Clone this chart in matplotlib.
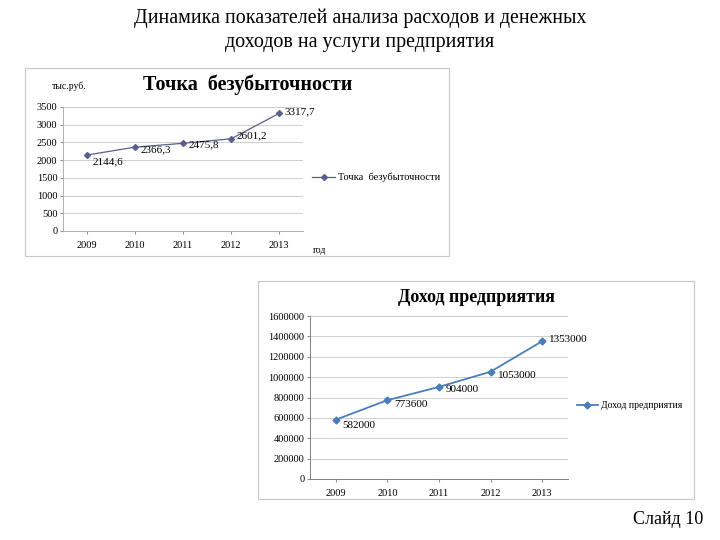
import matplotlib
matplotlib.use('Agg')
import matplotlib.pyplot as plt
from matplotlib.patches import Rectangle
from matplotlib.ticker import FuncFormatter

plt.rcParams['font.family'] = ['Liberation Serif', 'DejaVu Serif']

years = ['2009', '2010', '2011', '2012', '2013']
breakeven = [2144.6, 2366.3, 2475.8, 2601.2, 3317.7]
breakeven_labels = ['2144,6', '2366,3', '2475,8', '2601,2', '3317,7']
income = [582000, 773600, 904000, 1053000, 1353000]
income_labels = ['582000', '773600', '904000', '1053000', '1353000']

W, H = 720, 540
fig = plt.figure(figsize=(7.2, 5.4), dpi=100)


def box(x0, y0, x1, y1):
    # pixel box -> figure coords
    return [x0 / W, 1 - y1 / H, (x1 - x0) / W, (y1 - y0) / H]


def frame(x0, y0, x1, y1):
    l, b, w, h = box(x0, y0, x1, y1)
    fig.patches.append(Rectangle((l, b), w, h, transform=fig.transFigure,
                                 fill=False, edgecolor='#c8c8c8', lw=0.8))


fig.text(0.5, 1 - 18 / H, 'Динамика показателей анализа расходов и денежных',
         ha='center', va='center', fontsize=14.4)
fig.text(0.5, 1 - 43 / H, 'доходов на услуги предприятия',
         ha='center', va='center', fontsize=14.4)
fig.text(703 / W, 1 - 520 / H, 'Слайд 10', ha='right', va='center', fontsize=13)


def style(ax, ymax, step, color):
    ax.set_xlim(-0.5, 4.5)
    ax.set_ylim(0, ymax)
    ax.set_yticks(range(0, ymax + 1, step))
    ax.yaxis.set_major_formatter(FuncFormatter(lambda v, p: '%d' % v))
    ax.set_xticks(range(5))
    ax.set_xticklabels(years)
    ax.tick_params(labelsize=7.5, length=2, color='#909090', pad=5)
    ax.tick_params(axis='y', pad=2)
    ax.grid(axis='y', color='#c8c8c8', lw=0.6)
    ax.set_axisbelow(True)
    for s in ['top', 'right']:
        ax.spines[s].set_visible(False)
    for s in ['left', 'bottom']:
        ax.spines[s].set_color(color)
        ax.spines[s].set_linewidth(0.7)


# chart 1
frame(25, 68, 449, 256)
ax1 = fig.add_axes(box(63, 107, 303, 231))
c1 = '#5a5e8c'
ax1.plot(range(5), breakeven, color=c1, lw=0.9, marker='D', ms=3,
         label='Точка  безубыточности')
style(ax1, 3500, 500, '#b0b0b0')
offs1 = [(4, -5), (4, -2), (4, -1), (4, 2), (4, 1)]
for i, (v, t) in enumerate(zip(breakeven, breakeven_labels)):
    ax1.annotate(t, (i, v), xytext=offs1[i], textcoords='offset points',
                 fontsize=8, va='center')
ax1.legend(loc='center left', bbox_to_anchor=(1.0, 0.43), frameon=False,
           fontsize=7.5, handlelength=2.2, handletextpad=0.3)
fig.text(52 / W, 1 - 86 / H, 'тыс.руб.', fontsize=7, va='center')
fig.text(313 / W, 1 - 250 / H, 'год', fontsize=7, va='center')
fig.text(248 / W, 1 - 85 / H, 'Точка  безубыточности', ha='center',
         va='center', fontsize=14.5, fontweight='bold')

# chart 2
frame(258, 281, 694, 499)
ax2 = fig.add_axes(box(310, 316, 568, 479))
c2 = '#4a7ebb'
ax2.plot(range(5), income, color=c2, lw=1.3, marker='D', ms=3.5,
         label='Доход предприятия')
style(ax2, 1600000, 200000, '#808080')
offs2 = [(5, -4), (5, -3), (5, -2), (5, -3), (5, 1)]
for i, (v, t) in enumerate(zip(income, income_labels)):
    ax2.annotate(t, (i, v), xytext=offs2[i], textcoords='offset points',
                 fontsize=8, va='center')
ax2.legend(loc='center left', bbox_to_anchor=(1.0, 0.45), frameon=False,
           fontsize=7, handlelength=2.2, handletextpad=0.3)
fig.text(476 / W, 1 - 298 / H, 'Доход предприятия', ha='center',
         va='center', fontsize=13, fontweight='bold')

fig.savefig('out.png', dpi=100)
